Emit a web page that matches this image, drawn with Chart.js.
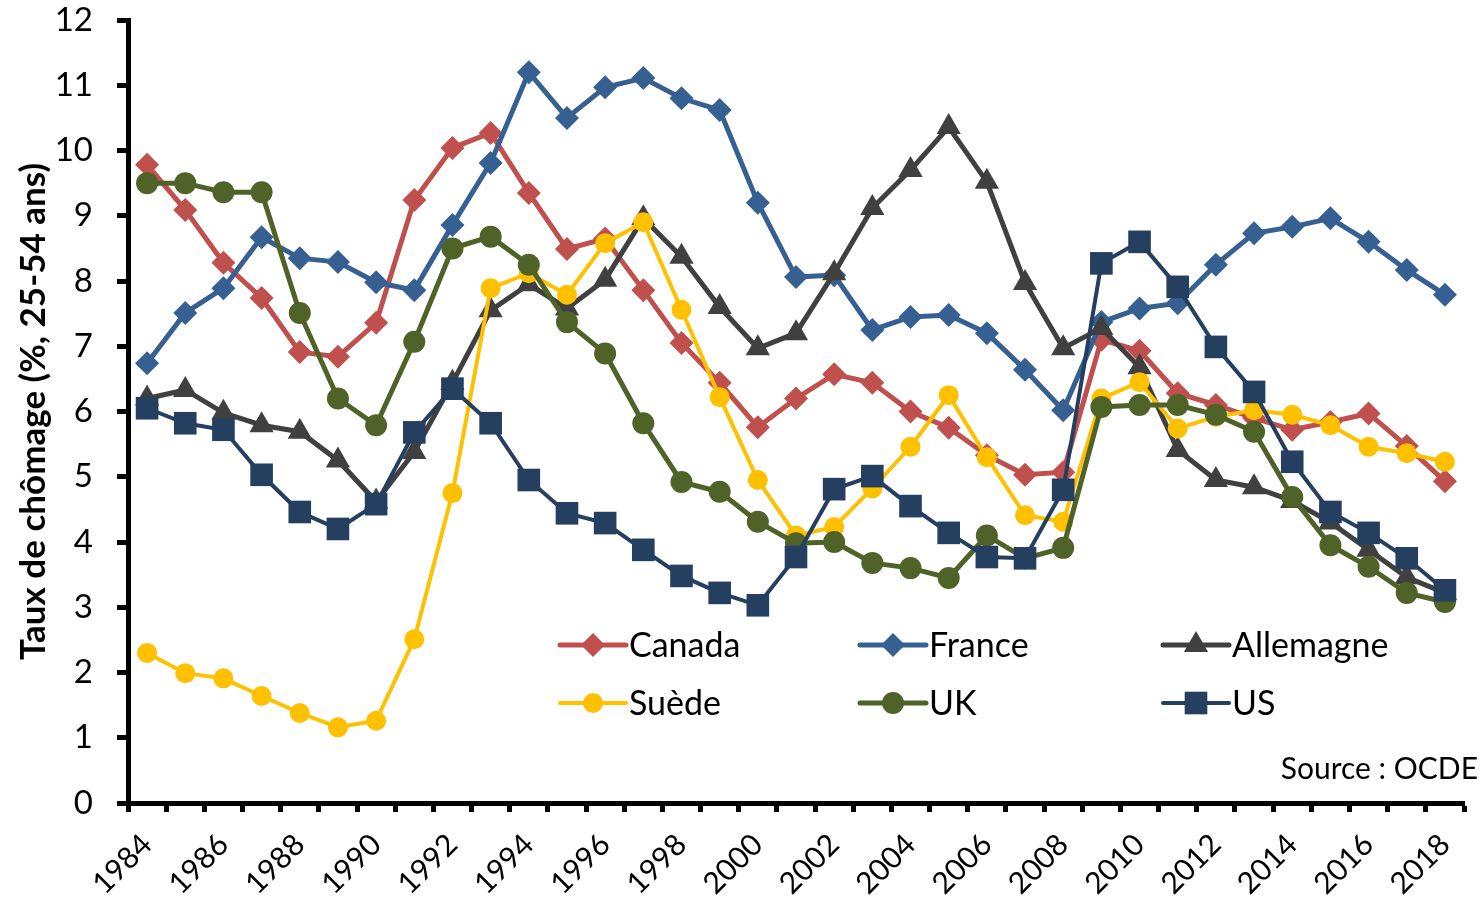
<!DOCTYPE html>
<html>
<head>
<meta charset="utf-8">
<script src="https://cdn.jsdelivr.net/npm/chart.js@4/dist/chart.umd.min.js"></script>
<style>
  html, body { margin: 0; padding: 0; background: #fff; }
  #wrap { width: 1480px; height: 897px; }
</style>
</head>
<body>
<div id="wrap"><canvas id="chomageChart" width="1480" height="897"></canvas></div>
<script>
// data
var years = [];
for (var y = 1984; y <= 2018; y++) years.push(String(y));

var canada = [9.78, 9.09, 8.28, 7.74, 6.91, 6.84, 7.36, 9.24, 10.04, 10.27, 9.35, 8.49, 8.65, 7.86, 7.05, 6.44, 5.76, 6.2, 6.57, 6.44, 6.0, 5.75, 5.33, 5.03, 5.07, 7.1, 6.93, 6.28, 6.1, 5.9, 5.72, 5.84, 5.97, 5.47, 4.93];
var france = [6.74, 7.51, 7.89, 8.67, 8.35, 8.29, 7.98, 7.86, 8.86, 9.81, 11.2, 10.5, 10.97, 11.11, 10.8, 10.62, 9.2, 8.06, 8.09, 7.25, 7.45, 7.48, 7.2, 6.64, 6.02, 7.37, 7.58, 7.66, 8.25, 8.73, 8.83, 8.96, 8.6, 8.17, 7.79];
var allemagne = [6.2, 6.33, 5.98, 5.79, 5.69, 5.25, 4.62, 5.38, 6.44, 7.55, 7.95, 7.58, 8.02, 8.96, 8.37, 7.6, 6.97, 7.2, 8.12, 9.12, 9.7, 10.36, 9.52, 7.97, 6.97, 7.28, 6.68, 5.41, 4.95, 4.84, 4.63, 4.3, 3.88, 3.46, 3.22];
var suede = [2.3, 1.99, 1.91, 1.64, 1.38, 1.16, 1.26, 2.51, 4.75, 7.89, 8.12, 7.79, 8.58, 8.9, 7.56, 6.22, 4.95, 4.1, 4.23, 4.82, 5.46, 6.25, 5.3, 4.41, 4.31, 6.2, 6.45, 5.74, 5.92, 6.02, 5.95, 5.79, 5.46, 5.36, 5.23];
var uk = [9.5, 9.5, 9.36, 9.36, 7.51, 6.2, 5.79, 7.07, 8.5, 8.68, 8.25, 7.37, 6.89, 5.82, 4.92, 4.77, 4.31, 3.98, 4.0, 3.68, 3.6, 3.45, 4.1, 3.75, 3.91, 6.07, 6.1, 6.1, 5.95, 5.69, 4.69, 3.95, 3.62, 3.22, 3.08];
var us = [6.05, 5.82, 5.72, 5.03, 4.46, 4.2, 4.58, 5.68, 6.35, 5.82, 4.95, 4.44, 4.29, 3.88, 3.48, 3.22, 3.03, 3.77, 4.81, 5.01, 4.55, 4.14, 3.77, 3.75, 4.8, 8.27, 8.6, 7.91, 6.99, 6.3, 5.23, 4.46, 4.14, 3.75, 3.26];

var seriesNames = ['Canada', 'France', 'Allemagne', 'Suède', 'UK', 'US'];
var seriesData = [canada, france, allemagne, suede, uk, us];

// styles
var FONT = 'Lato, "Noto Sans", sans-serif';
var colors = ['#C0504D', '#376092', '#404040', '#FFC000', '#4F6228', '#243F60'];
var markers = ['rectRot', 'rectRot', 'triangle', 'circle', 'circle', 'rect'];
var markerSize = [12, 12, 14, 10, 11, 16];
var lineWidths = [5, 5, 5, 4, 5, 4];

var datasets = seriesNames.map(function (name, i) {
  return {
    label: name,
    data: seriesData[i],
    borderColor: colors[i],
    backgroundColor: colors[i],
    borderWidth: lineWidths[i],
    pointStyle: markers[i],
    pointRadius: markerSize[i],
    pointHoverRadius: markerSize[i],
    pointBorderWidth: 0,
    pointBackgroundColor: colors[i],
    tension: 0,
    fill: false,
    order: seriesNames.length - i   // excel draws the last series on top
  };
});

// legend drawn inside the plot, 3 columns x 2 rows
var legendPlugin = {
  id: 'insideLegend',
  afterDatasetsDraw: function (chart) {
    var ctx = chart.ctx;
    var colX = [560, 860, 1163];
    var rowY = [645, 703];
    ctx.save();
    for (var i = 0; i < seriesNames.length; i++) {
      var x = colX[i % 3], yy = rowY[Math.floor(i / 3)];
      ctx.strokeStyle = colors[i];
      ctx.lineWidth = lineWidths[i];
      ctx.lineCap = 'round';
      ctx.beginPath();
      ctx.moveTo(x, yy);
      ctx.lineTo(x + 66, yy);
      ctx.stroke();
      ctx.fillStyle = colors[i];
      Chart.helpers.drawPoint(ctx, {
        pointStyle: markers[i],
        radius: markerSize[i],
        rotation: 0,
        borderWidth: 0
      }, x + 33, yy);
      ctx.fillStyle = '#000';
      ctx.font = '34px ' + FONT;
      ctx.textAlign = 'left';
      ctx.textBaseline = 'middle';
      ctx.fillText(seriesNames[i], x + 69, yy + 1);
    }
    ctx.font = '30px ' + FONT;
    ctx.textAlign = 'right';
    ctx.fillText('Source : OCDE', 1478, 769);
    ctx.restore();
  }
};

var ctx = document.getElementById('chomageChart').getContext('2d');
var myChart = new Chart(ctx, {
  type: 'line',
  data: { labels: years, datasets: datasets },
  options: {
    responsive: false,
    animation: false,
    layout: { padding: { top: 20, right: 10, left: 0, bottom: 0 } },
    plugins: {
      legend: { display: false },
      tooltip: { enabled: false }
    },
    scales: {
      x: {
        type: 'category',
        offset: true,
        grid: {
          offset: true,
          drawOnChartArea: false,
          drawTicks: true,
          tickLength: 9,
          tickWidth: 5,
          tickColor: '#000'
        },
        border: { display: true, color: '#000', width: 5 },
        ticks: {
          autoSkip: false,
          maxRotation: 45,
          minRotation: 45,
          padding: 15,
          color: '#000',
          font: { family: FONT, size: 30 },
          callback: function (val, idx) {
            return idx % 2 === 0 ? this.getLabelForValue(val) : '';
          }
        },
        afterFit: function (scale) {
          scale.height = 94;
          scale.paddingTop = 0;
          scale.paddingLeft = 0;
          scale.paddingRight = 0;
        }
      },
      y: {
        min: 0,
        max: 12,
        grid: {
          drawOnChartArea: false,
          drawTicks: true,
          tickLength: 11,
          tickWidth: 5,
          tickColor: '#000'
        },
        border: { display: true, color: '#000', width: 5 },
        ticks: {
          stepSize: 1,
          padding: 24,
          color: '#000',
          font: { family: FONT, size: 33 }
        },
        title: {
          display: true,
          text: 'Taux de chômage (%, 25-54 ans)',
          color: '#000',
          font: { family: FONT, size: 35, weight: 'bold' },
          padding: { top: 13, bottom: 0 }
        },
        afterFit: function (scale) {
          scale.width = 128;
          scale.paddingTop = 0;
          scale.paddingBottom = 0;
        }
      }
    }
  },
  plugins: [legendPlugin]
});
</script>
</body>
</html>
